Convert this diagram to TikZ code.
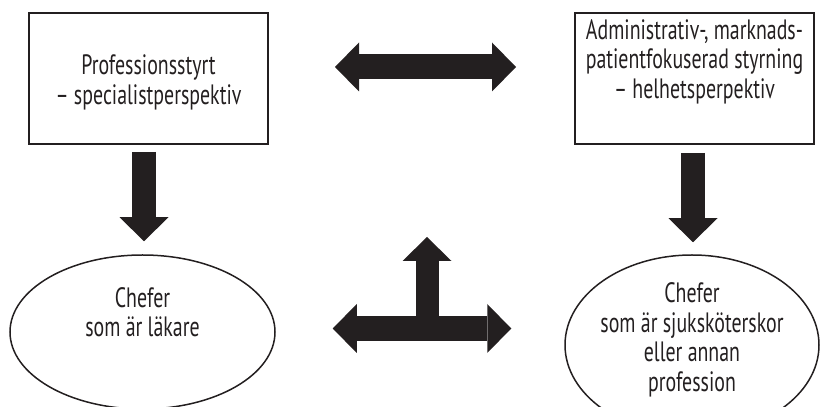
\documentclass[tikz,border=0pt]{standalone}
\usepackage{fontspec}
\newfontfamily\diagfont[FakeStretch=0.71,Ligatures=TeX]{PT Sans}
\usetikzlibrary{arrows.meta,positioning,calc,shapes.geometric}
\definecolor{inkblack}{HTML}{231F20}
\tikzset{every picture/.style={line width=0.75pt},
    textline/.style={font=\diagfont\fontsize{28}{29.5}\selectfont, text=inkblack, align=center},
    perspbox/.style={draw=inkblack, line width=2pt, minimum width=239pt, minimum height=131pt, inner sep=0pt},
    chefoval/.style={ellipse, draw=inkblack, line width=1.5pt, inner sep=0pt},
    fatarrow/.style={draw=inkblack, line width=25pt, -{Triangle[length=24pt,width=49pt,line width=0pt]}},
    fatboth/.style={fatarrow, {Triangle[length=24pt,width=49pt,line width=0pt]}-{Triangle[length=24pt,width=49pt,line width=0pt]}}}

\begin{document}
\begin{tikzpicture}[x=1pt,y=1pt]
    \useasboundingbox (0,0) rectangle (820,407);
    % boxes
    \node[perspbox] (lbox) at (148.5,328.5) {};
    \node[perspbox, right=305pt of lbox] (rbox) {};
    \node[textline, yshift=-4pt] (ltext) at (lbox) {Professionsstyrt\\– specialistperspektiv};
    \node[textline, yshift=17pt] (rtext) at (rbox) {Administrativ-, marknads-\\patientfokuserad styrning\\– helhetsperpektiv};
    % ovals
    \node[chefoval, minimum width=265pt, minimum height=154pt] (lell) at (142.5,75) {};
    \node[chefoval, minimum width=254pt, minimum height=180pt] (rell) at (692,62) {};
    \node[textline, yshift=20pt] (lelltext) at (lell) {Chefer\\som är läkare};
    \node[textline, yshift=5pt] (relltext) at (rell) {Chefer\\som är sjuksköterskor\\eller annan\\profession};
    % arrows
    \draw[fatboth, shorten <=66pt, shorten >=58pt] ([yshift=11.5pt]lbox.east) -- ([yshift=11.5pt]rbox.west);
    \draw[fatarrow, line width=24pt, shorten <=7pt, shorten >=13pt] ([xshift=-4.5pt]lbox.south) -- ([xshift=-4.5pt]lbox.south |- lell.north);
    \draw[fatarrow, line width=24pt, shorten <=8pt, shorten >=12pt] ([xshift=-1.5pt]rbox.south) -- ([xshift=-1.5pt]rbox.south |- rell.north);
    \draw[fatboth, shorten <=57pt, shorten >=53pt] ([yshift=3.5pt]lell.east) -- ([yshift=3.5pt]lell.east -| rell.west);
    \coordinate (hub) at (427,66);
    \coordinate (hubtop) at (427,170);
    \draw[fatarrow, line width=23pt] (hub) -- (hubtop);
\end{tikzpicture}
\end{document}
